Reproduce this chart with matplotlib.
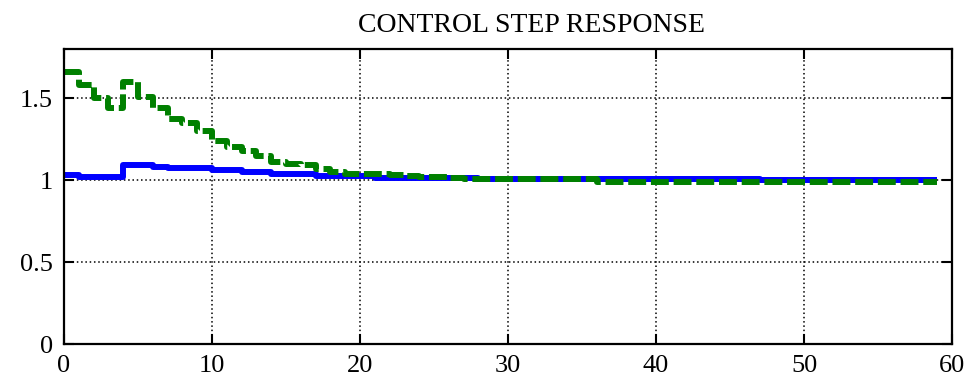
import matplotlib
matplotlib.use('Agg')
import matplotlib.pyplot as plt

# Step response samples, one value per time step (t = 0 .. 59)
t = list(range(60))

blue_vals = ([1.03] + [1.02] * 3 + [1.093] * 2 + [1.082] + [1.071] * 3 +
             [1.063] * 2 + [1.052] * 2 + [1.040] * 3 + [1.027] * 4 +
             [1.012] * 7 + [1.005] * 19 + [0.998] * 13)

green_vals = ([1.66, 1.58, 1.50, 1.44, 1.60, 1.51, 1.44, 1.37, 1.35, 1.30,
               1.24, 1.20, 1.18, 1.15, 1.11, 1.10, 1.09, 1.07, 1.05, 1.04,
               1.035, 1.035, 1.03, 1.025, 1.016, 1.016, 1.012] +
              [1.005] * 9 + [0.991] * 24)

x_ticks = [0, 10, 20, 30, 40, 50, 60]
y_ticks = [0, 0.5, 1, 1.5]
y_tick_labels = ['0', '0.5', '1', '1.5']

plt.rc('font', family='Liberation Serif')

fig = plt.figure(figsize=(9.69, 3.78), dpi=100)
ax = fig.add_axes([0.066, 0.0899, 0.9165, 0.7805])

ax.step(t, blue_vals, where='post', color='#0000FF', linewidth=4.3,
        solid_capstyle='butt')
ax.step(t, green_vals, where='post', color='#008000', linewidth=4.3,
        linestyle=(0, (3.0, 0.8)))

# ---------- GRAPH OPTIONS ----------
ax.set_xlim(0, 60)
ax.set_ylim(0, 1.8)
ax.set_xticks(x_ticks)
ax.set_yticks(y_ticks)
ax.set_yticklabels(y_tick_labels)
ax.grid(True, color='black', linestyle=(0, (1, 1.8)), linewidth=1.1)
ax.yaxis.set_ticks_position('both')
ax.xaxis.set_ticks_position('both')
ax.tick_params(which='major', direction='in', length=7, width=1.5,
               labelsize=19, pad=8)
for sp in ax.spines.values():
    sp.set_linewidth(1.6)

ax.set_title('CONTROL STEP RESPONSE', fontsize=20, pad=12, x=0.527)

fig.savefig('out.png', dpi=100)
